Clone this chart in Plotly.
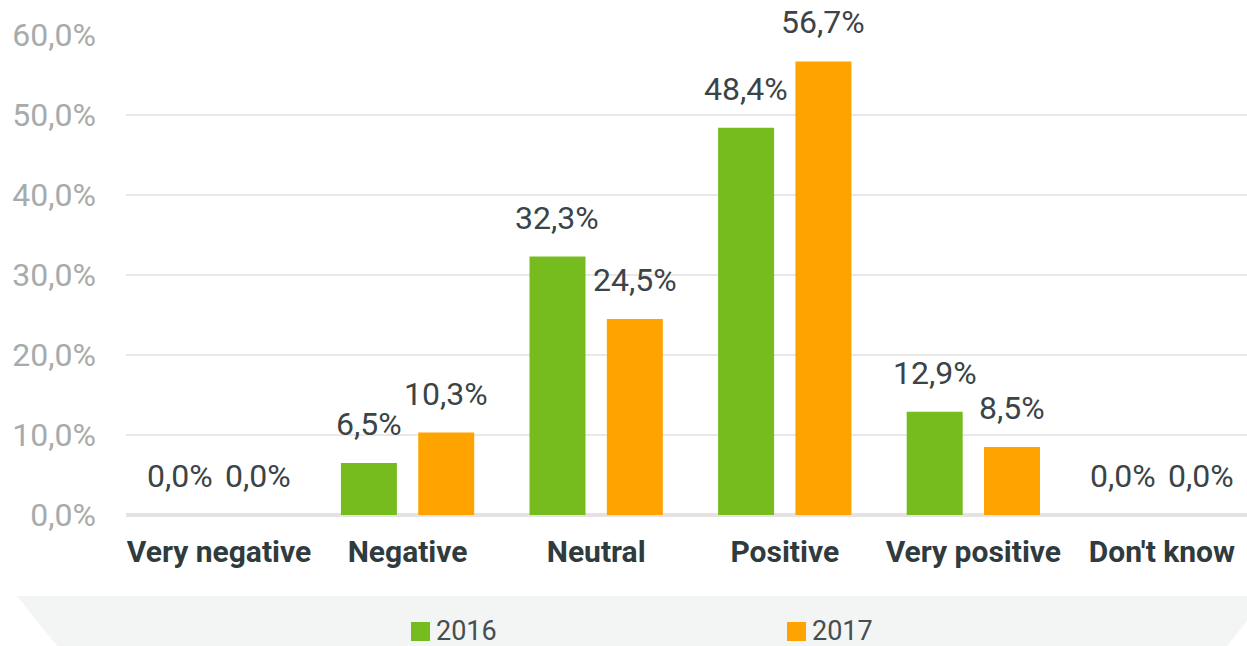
import plotly.graph_objects as go

categories = ["Very negative", "Negative", "Neutral", "Positive", "Very positive", "Don't know"]
values_2016 = [0.0, 6.5, 32.3, 48.4, 12.9, 0.0]
values_2017 = [0.0, 10.3, 24.5, 56.7, 8.5, 0.0]
series_names = ["2016", "2017"]
series_colors = ["#77bc1f", "#ffa300"]
y_ticks = [0, 10, 20, 30, 40, 50, 60]

W, H = 1247, 646
ML, MR, MT, MB = 126, 0, 35, 131
PW, PH = W - ML - MR, H - MT - MB


def px(x):
    return (x - ML) / PW


def py(y):
    return (H - MB - y) / PH


fig = go.Figure()
for name, vals, col in zip(series_names, [values_2016, values_2017], series_colors):
    fig.add_trace(go.Bar(x=categories, y=vals, name=name, marker_color=col,
                         marker_line_width=0, showlegend=False))

def fmt(v):
    return f"{v:.1f}%".replace(".", ",")

annotations = []
shift = 38.7
for k, vals in enumerate([values_2016, values_2017]):
    for c, v in zip(categories, vals):
        annotations.append(dict(x=c, y=v, xref="x", yref="y", text=fmt(v), showarrow=False,
                                xanchor="center", yanchor="bottom", yshift=18,
                                xshift=-shift if k == 0 else shift,
                                font=dict(family="Roboto", size=32, color="#3b4446")))

# Legend band and manual legend
shapes = [dict(type="path", xref="paper", yref="paper", layer="below",
               path=f"M {px(17)},{py(596)} L {px(1267)},{py(596)} L {px(1227)},{py(646)} L {px(57)},{py(646)} Z",
               fillcolor="#f3f4f4", line=dict(width=0))]
legend_x = [411, 787]
for lx, name, col in zip(legend_x, series_names, series_colors):
    shapes.append(dict(type="rect", xref="paper", yref="paper",
                       x0=px(lx), x1=px(lx + 19), y0=py(641), y1=py(622),
                       fillcolor=col, line=dict(width=0)))
    annotations.append(dict(x=px(lx + 23), y=py(631), xref="paper", yref="paper", text=name,
                            showarrow=False, xanchor="left", yanchor="middle",
                            font=dict(family="Roboto", size=27, color="#454e50")))

fig.update_layout(
    width=W, height=H,
    margin=dict(l=ML, r=MR, t=MT, b=MB),
    paper_bgcolor="white", plot_bgcolor="white",
    barmode="group", bargap=0.18, bargroupgap=0.276,
    shapes=shapes, annotations=annotations,
    xaxis=dict(type="category", range=[-0.493, 5.451], showgrid=False, showline=False,
               ticks="", tickfont=dict(family="Roboto", size=30, color="#2f3b3d", weight="bold"),
               ticklabelstandoff=16),
    yaxis=dict(range=[0, 60], tickvals=y_ticks, ticktext=[fmt(t) for t in y_ticks],
               showgrid=True, gridcolor="#e8e8e8", gridwidth=2,
               zeroline=True, zerolinecolor="#e6e2e4", zerolinewidth=4, showline=False,
               ticks="", ticklabelstandoff=29,
               tickfont=dict(family="Roboto", size=32, color="#a6abab")),
)

fig.write_html("out.html", config={"displayModeBar": False},
               post_script="document.body.style.margin='0';")
